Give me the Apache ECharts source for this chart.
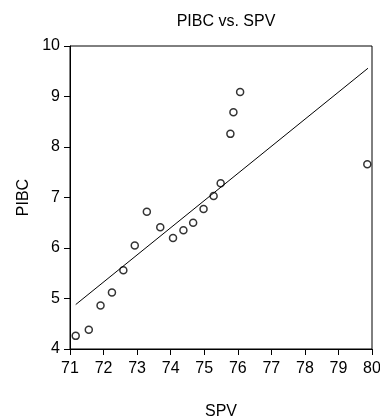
<!DOCTYPE html>
<html>
<head>
<meta charset="utf-8">
<script src="https://cdn.jsdelivr.net/npm/echarts@6/dist/echarts.min.js"></script>
<style>
  html, body { margin: 0; padding: 0; background: #fff; }
  #chart { width: 380px; height: 417px; }
</style>
</head>
<body>
<div id="chart"></div>
<script>
const spv = [71.17, 71.56, 71.91, 72.25, 72.59, 72.93, 73.29, 73.69, 74.07,
  74.38, 74.67, 74.98, 75.28, 75.49, 75.78, 75.87, 76.07, 79.86];
const pibc = [4.26, 4.38, 4.86, 5.12, 5.56, 6.05, 6.72, 6.41, 6.20,
  6.35, 6.50, 6.77, 7.03, 7.28, 8.26, 8.69, 9.09, 7.66];

// fitted line ends
const fit_x = [71.17, 79.88];
const fit_y = [4.88, 9.56];

const font = "'Liberation Sans', Arial, sans-serif";

const axis_style = {
  axisLine: { show: true, lineStyle: { color: "#000", width: 1 } },
  axisTick: { show: true, inside: false, length: 6, lineStyle: { color: "#000" } },
  axisLabel: { color: "#000", fontSize: 16, fontFamily: font, margin: 10 },
  splitLine: { show: false },
  nameTextStyle: { color: "#000", fontSize: 16, fontFamily: font }
};

const chart = echarts.init(document.getElementById("chart"));
chart.setOption({
  animation: false,
  title: {
    text: "PIBC vs. SPV",
    left: 221,
    textAlign: "center",
    top: 9,
    textStyle: { color: "#000", fontSize: 16, fontWeight: "normal", fontFamily: font }
  },
  grid: {
    left: 70, right: 8, top: 46, bottom: 68,
    containLabel: false,
    outerBoundsMode: "none",
    show: true, borderColor: "#000", borderWidth: 1
  },
  xAxis: Object.assign({
    type: "value", min: 71, max: 80, interval: 1,
    name: "SPV", nameLocation: "middle", nameGap: 55
  }, axis_style, { axisLabel: Object.assign({}, axis_style.axisLabel, { margin: 12 }) }),
  yAxis: Object.assign({
    type: "value", min: 4, max: 10, interval: 1,
    name: "PIBC", nameLocation: "middle", nameGap: 36
  }, axis_style),
  series: [
    {
      type: "line",
      data: fit_x.map((x, i) => [x, fit_y[i]]),
      showSymbol: false,
      lineStyle: { color: "#000", width: 1 }
    },
    {
      type: "scatter",
      data: spv.map((x, i) => [x, pibc[i]]),
      symbol: "circle",
      symbolSize: 7,
      itemStyle: { color: "#fff", borderColor: "#000", borderWidth: 1.5 }
    }
  ]
});
</script>
</body>
</html>
